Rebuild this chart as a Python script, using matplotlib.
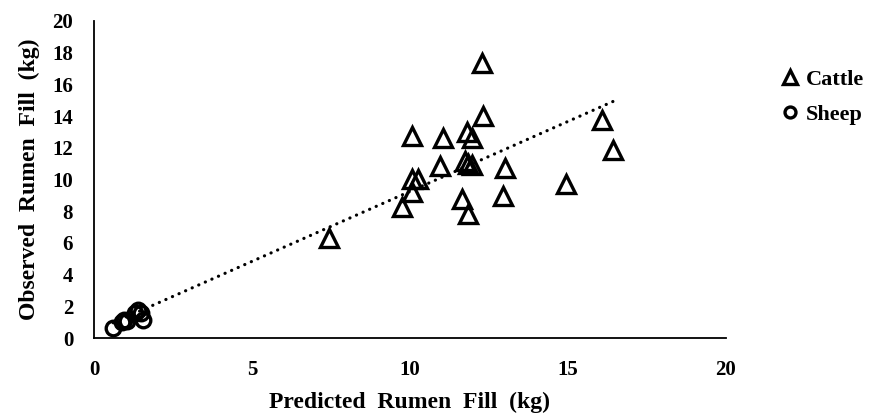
import matplotlib
matplotlib.use("Agg")
import matplotlib.pyplot as plt
import numpy as np

cattle_pred = [12.27, 12.32, 16.07, 16.43, 10.05, 11.05, 11.81, 11.95, 10.95, 11.74, 11.84, 11.95,
               13.01, 10.05, 10.26, 10.05, 9.74, 11.64, 11.83, 12.95, 14.93, 7.45]
cattle_obs = [17.37, 14.01, 13.75, 11.86, 12.74, 12.64, 13.02, 12.6, 10.85, 11.19, 10.97, 10.91,
              10.74, 10.01, 10.01, 9.23, 8.25, 8.75, 7.82, 8.98, 9.72, 6.31]
sheep_pred = [0.61, 0.88, 0.95, 1.05, 1.3, 1.40, 1.48, 1.56]
sheep_obs = [0.61, 1.03, 1.15, 1.05, 1.55, 1.77, 1.55, 1.14]
trend_slope = 0.883
trend_intercept = 0.42

xticks = [0, 5, 10, 15, 20]
yticks = list(range(0, 21, 2))

plt.rcParams['font.family'] = ['Liberation Serif', 'DejaVu Serif']
plt.rcParams['font.weight'] = 'bold'

fig = plt.figure(figsize=(8.7, 4.16), dpi=100)
ax = fig.add_axes([94 / 870, 1 - 338 / 416, 632 / 870, 317 / 416])

ax.plot(cattle_pred, cattle_obs, linestyle='none', marker='^', ms=12.5, mew=2.4,
        mfc='none', mec='black', label='Cattle', zorder=3)
ax.plot(sheep_pred, sheep_obs, linestyle='none', marker='o', ms=10.5, mew=2.4,
        mfc='none', mec='black', label='Sheep', zorder=3)

allx = np.array(sheep_pred + cattle_pred)
tx = np.array([allx.min(), allx.max()])
ax.plot(tx, trend_intercept + trend_slope * tx, color='black', lw=2.3,
        linestyle=(0, (0.05, 2.2)), dash_capstyle='round', zorder=2)

ax.set_xlim(0, 20)
ax.set_ylim(0, 20)
ax.set_xticks(xticks)
ax.set_yticks(yticks)
ax.tick_params(length=0, labelsize=15)
ax.tick_params(axis='y', pad=15)
ax.tick_params(axis='x', pad=16)
for lab in ax.get_xticklabels() + ax.get_yticklabels():
    lab.set_fontweight('bold')
for s in ['top', 'right']:
    ax.spines[s].set_visible(False)
for s in ['left', 'bottom']:
    ax.spines[s].set_linewidth(1.3)

ax.set_xlabel('Predicted  Rumen  Fill  (kg)', fontsize=17, fontweight='bold', labelpad=8)
ax.set_ylabel('Observed  Rumen  Fill  (kg)', fontsize=17, fontweight='bold', labelpad=9)

leg = fig.legend(loc='upper left', bbox_to_anchor=(781 / 870, 1 - 69 / 416),
                 borderaxespad=0, borderpad=0, frameon=False,
                 fontsize=16, handlelength=0.8, handletextpad=0.3, labelspacing=0.67,
                 markerscale=0.75)
for t in leg.get_texts():
    t.set_fontweight('bold')

fig.savefig('out.png', dpi=100)
